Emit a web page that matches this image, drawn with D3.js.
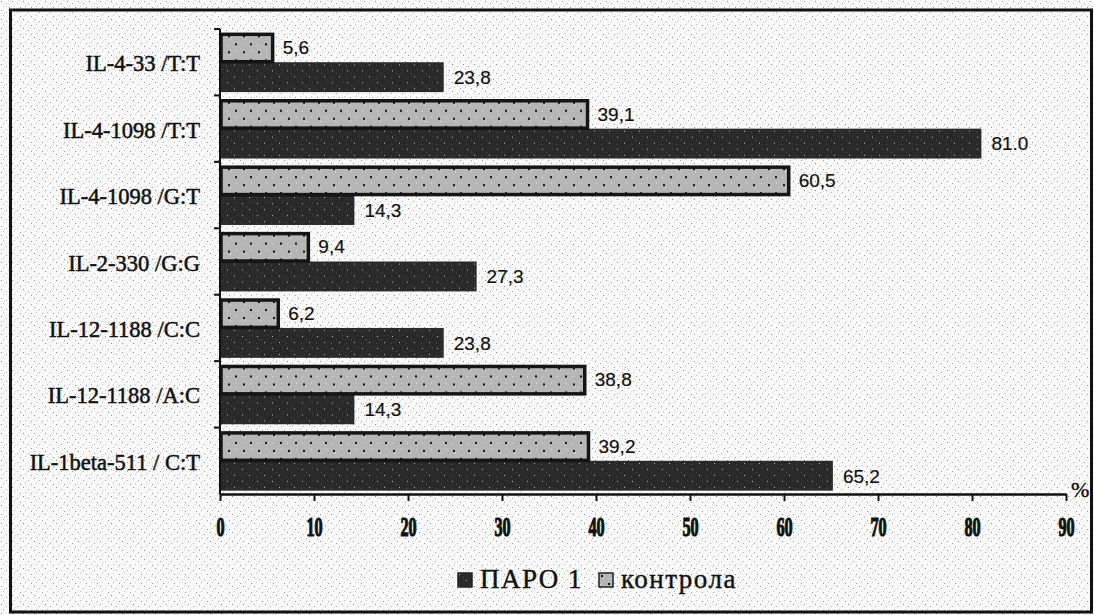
<!DOCTYPE html>
<html>
<head>
<meta charset="utf-8">
<script src="https://cdn.jsdelivr.net/npm/d3@7"></script>
<style>
  html, body { margin: 0; padding: 0; background: #fff; }
  svg { display: block; }
</style>
</head>
<body>
<svg id="chart" width="1094" height="615"></svg>
<script>
// ---- data ----
const categories = [
  "IL-4-33 /T:T",
  "IL-4-1098 /T:T",
  "IL-4-1098 /G:T",
  "IL-2-330 /G:G",
  "IL-12-1188 /C:C",
  "IL-12-1188 /A:C",
  "IL-1beta-511 / C:T"
];
const seriesNames = ["контрола", "ПАРО 1"];
const controlValues = [5.6, 39.1, 60.5, 9.4, 6.2, 38.8, 39.2];
const paroValues    = [23.8, 81.0, 14.3, 27.3, 23.8, 14.3, 65.2];
const controlLabels = ["5,6", "39,1", "60,5", "9,4", "6,2", "38,8", "39,2"];
const paroLabels    = ["23,8", "81.0", "14,3", "27,3", "23,8", "14,3", "65,2"];
const xTicks = [0, 10, 20, 30, 40, 50, 60, 70, 80, 90];
const legendOrder = ["ПАРО 1", "контрола"];
const unitLabel = "%";

// ---- setup ----
const svg = d3.select("#chart");
const defs = svg.append("defs");

// speckled paper background
const bg = defs.append("pattern").attr("id", "paper").attr("patternUnits", "userSpaceOnUse")
  .attr("width", 11).attr("height", 9);
bg.append("rect").attr("width", 11).attr("height", 9).attr("fill", "#f9f9f9");
[[1,1,"#8c8c8c"],[6,3,"#a8a8a8"],[3,6,"#c0c0c0"],[9,7,"#999"],[8,0,"#dadada"],[4,4,"#e0e0e0"]]
  .forEach(([x,y,c]) => bg.append("rect").attr("x", x).attr("y", y).attr("width", 1).attr("height", 1).attr("fill", c));

// control bar pattern: light grey with black dots
const pc = defs.append("pattern").attr("id", "ctrlPat").attr("patternUnits", "userSpaceOnUse")
  .attr("width", 15).attr("height", 16);
pc.append("rect").attr("width", 15).attr("height", 16).attr("fill", "#b6b6b6");
[[0,0],[7,8]].forEach(([x,y]) => pc.append("rect").attr("x", x+3).attr("y", y+3).attr("width", 2).attr("height", 2).attr("fill", "#111"));
[[11,2],[2,12],[5,6]].forEach(([x,y]) => pc.append("rect").attr("x", x).attr("y", y).attr("width", 1).attr("height", 1).attr("fill", "#e6e6e6"));

// paro bar pattern: dark with light specks
const pp = defs.append("pattern").attr("id", "paroPat").attr("patternUnits", "userSpaceOnUse")
  .attr("width", 15).attr("height", 12);
pp.append("rect").attr("width", 15).attr("height", 12).attr("fill", "#2a2a2a");
[[2,2,"#bdbdbd"],[9,8,"#bdbdbd"],[6,5,"#555"],[12,1,"#4a4a4a"],[1,9,"#505050"]].forEach(([x,y,c]) =>
  pp.append("rect").attr("x", x).attr("y", y).attr("width", 1).attr("height", 1).attr("fill", c));

svg.append("rect").attr("width", 1094).attr("height", 615).attr("fill", "url(#paper)");
// frame
svg.append("rect").attr("x", 10.5).attr("y", 10).attr("width", 1081).attr("height", 602)
  .attr("fill", "none").attr("stroke", "#111").attr("stroke-width", 3);

const x = d3.scaleLinear().domain([0, 90]).range([220, 1066]);
const y = d3.scaleBand().domain(categories).range([29, 494]).paddingInner(0.1).paddingOuter(0.05);
const ySub = d3.scaleBand().domain(seriesNames).range([0, y.bandwidth()]).padding(0);

const rows = categories.map((c, i) => ({
  cat: c,
  bars: [
    { s: "контрола", v: controlValues[i], label: controlLabels[i] },
    { s: "ПАРО 1", v: paroValues[i], label: paroLabels[i] }
  ]
}));

const g = svg.append("g");
const groups = g.selectAll("g.cat").data(rows).join("g")
  .attr("transform", d => `translate(0,${y(d.cat)})`);

groups.selectAll("rect.paro").data(d => d.bars.filter(b => b.s === "ПАРО 1")).join("rect")
  .attr("x", x(0)).attr("y", b => ySub(b.s))
  .attr("width", b => x(b.v) - x(0)).attr("height", ySub.bandwidth())
  .attr("fill", "url(#paroPat)");
groups.selectAll("rect.ctrl").data(d => d.bars.filter(b => b.s === "контрола")).join("rect")
  .attr("x", x(0) + 1).attr("y", b => ySub(b.s) + 2)
  .attr("width", b => x(b.v) - x(0) - 1).attr("height", ySub.bandwidth() - 2.5)
  .attr("fill", "url(#ctrlPat)").attr("stroke", "#151515").attr("stroke-width", 3.5);

// value labels
groups.selectAll("text.val").data(d => d.bars).join("text")
  .attr("x", b => x(b.v) + 10)
  .attr("y", b => ySub(b.s) + ySub.bandwidth() / 2)
  .attr("dy", "0.36em")
  .attr("font-family", "Liberation Sans, Arial, sans-serif")
  .attr("font-size", 19)
  .attr("fill", "#111").attr("stroke", "#111").attr("stroke-width", 0.2)
  .text(b => b.label);

// y axis
const yAxisG = svg.append("g").attr("transform", `translate(${x(0)},0)`);
yAxisG.append("line").attr("x1", 0).attr("x2", 0).attr("y1", 29).attr("y2", 494)
  .attr("stroke", "#111").attr("stroke-width", 2);
const boundaries = categories.map(c => y(c) - y.step() * y.paddingInner() / 2);
yAxisG.selectAll("line.tk").data(boundaries).join("line")
  .attr("x1", -6).attr("x2", 0).attr("y1", d => d).attr("y2", d => d)
  .attr("stroke", "#111").attr("stroke-width", 2);
yAxisG.selectAll("text.cat").data(categories).join("text")
  .attr("x", -20).attr("y", c => y(c) + y.bandwidth() / 2).attr("dy", "0.4em")
  .attr("text-anchor", "end")
  .attr("font-family", "Liberation Serif, Times New Roman, serif")
  .attr("font-size", 22.5).attr("fill", "#111").attr("stroke", "#111").attr("stroke-width", 0.5)
  .text(c => c);

// x axis
const xAxis = d3.axisBottom(x).tickValues(xTicks).tickSize(7).tickSizeOuter(0).tickFormat(d3.format("d"));
const xAxisG = svg.append("g").attr("transform", "translate(0,494)").call(xAxis);
xAxisG.select(".domain").attr("stroke", "#111").attr("stroke-width", 2.5);
xAxisG.selectAll(".tick line").attr("stroke", "#111").attr("stroke-width", 2);
xAxisG.selectAll(".tick text")
  .attr("y", 0).attr("dy", 0)
  .attr("transform", "translate(0,42) scale(0.58,1)")
  .attr("font-family", "Liberation Serif, Times New Roman, serif")
  .attr("font-weight", "bold").attr("font-size", 28).attr("fill", "#111")
  .attr("stroke", "#111").attr("stroke-width", 1.2);

svg.append("text").attr("x", 1071).attr("y", 497)
  .attr("font-family", "Liberation Serif, Times New Roman, serif")
  .attr("font-size", 22).attr("fill", "#111").attr("stroke", "#111").attr("stroke-width", 0.4)
  .text(unitLabel);

// legend
const legendPos = [457, 598];
const lg = svg.append("g").selectAll("g").data(legendOrder).join("g")
  .attr("transform", (d, i) => `translate(${legendPos[i]},572)`);
lg.append("rect").attr("x", 1).attr("y", 1).attr("width", 14).attr("height", 14)
  .attr("fill", d => d === "ПАРО 1" ? "url(#paroPat)" : "url(#ctrlPat)")
  .attr("stroke", "#222").attr("stroke-width", 1.5);
lg.append("text").attr("x", 23).attr("y", 16)
  .attr("font-family", "Liberation Serif, Times New Roman, serif")
  .attr("font-size", 27).attr("letter-spacing", 1.5).attr("fill", "#111")
  .attr("stroke", "#111").attr("stroke-width", 0.4)
  .text(d => d);
</script>
</body>
</html>
